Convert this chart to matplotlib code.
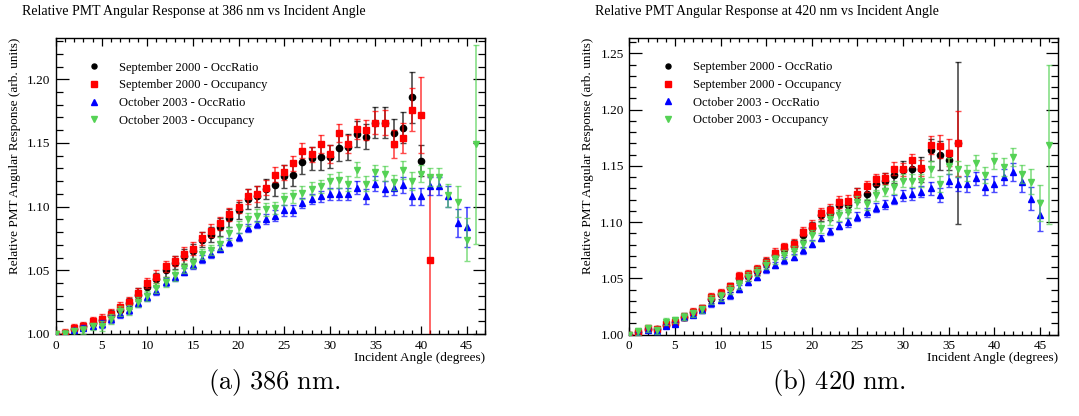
import matplotlib
matplotlib.use('Agg')
import matplotlib.pyplot as plt
from matplotlib.ticker import MultipleLocator, FormatStrFormatter

plt.rcParams['font.family'] = ['Liberation Serif', 'DejaVu Serif']
plt.rcParams['mathtext.fontset'] = 'cm'

# ---------------- data: 386 nm ----------------
angles_sep_386 = list(range(0, 41))   # Sep 2000 OccRatio
angles_occ_386 = list(range(0, 42))   # Sep 2000 Occupancy
angles_oct_ratio_386 = list(range(0, 46))
angles_oct_occ_386 = list(range(0, 47))

sep_ratio_386 = [1.000, 1.000, 1.004, 1.006, 1.009, 1.011, 1.015, 1.019, 1.024, 1.031,
                 1.037, 1.043, 1.050, 1.056, 1.061, 1.065, 1.074, 1.078, 1.084, 1.091,
                 1.097, 1.106, 1.108, 1.114, 1.117, 1.124, 1.125, 1.135, 1.138, 1.139,
                 1.139, 1.146, 1.147, 1.157, 1.155, 1.166, 1.166, 1.158, 1.162, 1.186,
                 1.136]
sep_ratio_386_err = [0.001, 0.002, 0.002, 0.003, 0.003, 0.003, 0.004, 0.004, 0.004, 0.005,
                     0.005, 0.005, 0.005, 0.005, 0.006, 0.006, 0.006, 0.006, 0.007, 0.007,
                     0.007, 0.008, 0.008, 0.008, 0.009, 0.009, 0.009, 0.009, 0.009, 0.010,
                     0.009, 0.010, 0.010, 0.010, 0.010, 0.012, 0.012, 0.011, 0.012, 0.020,
                     0.012]
sep_occ_386 = [1.000, 1.001, 1.0045, 1.0065, 1.010, 1.0115, 1.016, 1.021, 1.025, 1.032,
               1.040, 1.045, 1.053, 1.057, 1.063, 1.067, 1.075, 1.081, 1.087, 1.094,
               1.100, 1.108, 1.110, 1.115, 1.125, 1.127, 1.134, 1.144, 1.141, 1.149,
               1.141, 1.158, 1.149, 1.161, 1.160, 1.166, 1.166, 1.149, 1.154, 1.176,
               1.172, 1.058]
sep_occ_386_err = [0.002, 0.003, 0.003, 0.003, 0.003, 0.004, 0.004, 0.004, 0.004, 0.004,
                   0.004, 0.005, 0.004, 0.004, 0.005, 0.005, 0.005, 0.005, 0.005, 0.005,
                   0.005, 0.006, 0.006, 0.006, 0.006, 0.006, 0.006, 0.006, 0.006, 0.007,
                   0.007, 0.007, 0.007, 0.008, 0.008, 0.009, 0.010, 0.011, 0.012, 0.017,
                   0.030, 0.066]
oct_ratio_386 = [1.000, 1.000, 1.003, 1.005, 1.006, 1.008, 1.012, 1.0155, 1.019, 1.0245,
                 1.029, 1.034, 1.041, 1.045, 1.049, 1.054, 1.059, 1.063, 1.067, 1.072,
                 1.076, 1.083, 1.086, 1.090, 1.093, 1.097, 1.097, 1.103, 1.106, 1.108,
                 1.110, 1.110, 1.110, 1.115, 1.108, 1.118, 1.114, 1.115, 1.117, 1.108,
                 1.108, 1.116, 1.116, 1.108, 1.087, 1.084]
oct_ratio_386_err = [0.001, 0.002, 0.002, 0.002, 0.002, 0.003, 0.003, 0.003, 0.003, 0.003,
                     0.003, 0.003, 0.003, 0.003, 0.003, 0.003, 0.003, 0.003, 0.003, 0.003,
                     0.003, 0.003, 0.003, 0.004, 0.004, 0.004, 0.004, 0.004, 0.004, 0.004,
                     0.005, 0.005, 0.005, 0.005, 0.006, 0.006, 0.006, 0.006, 0.006, 0.007,
                     0.007, 0.007, 0.007, 0.008, 0.011, 0.016]
oct_occ_386 = [1.000, 1.000, 1.002, 1.003, 1.006, 1.0065, 1.012, 1.018, 1.019, 1.025,
               1.030, 1.036, 1.041, 1.046, 1.052, 1.056, 1.063, 1.066, 1.071, 1.079,
               1.084, 1.090, 1.093, 1.098, 1.099, 1.106, 1.108, 1.111, 1.114, 1.116,
               1.120, 1.121, 1.118, 1.129, 1.118, 1.127, 1.126, 1.119, 1.129, 1.120,
               1.126, 1.123, 1.123, 1.109, 1.104, 1.074, 1.149]
oct_occ_386_err = [0.002, 0.003, 0.003, 0.003, 0.003, 0.004, 0.004, 0.004, 0.004, 0.004,
                   0.004, 0.004, 0.004, 0.004, 0.004, 0.004, 0.004, 0.004, 0.005, 0.005,
                   0.005, 0.005, 0.005, 0.005, 0.005, 0.005, 0.005, 0.005, 0.005, 0.005,
                   0.006, 0.006, 0.006, 0.006, 0.006, 0.006, 0.006, 0.006, 0.007, 0.007,
                   0.007, 0.007, 0.007, 0.009, 0.012, 0.017, 0.078]

# ---------------- data: 420 nm ----------------
angles_sep_420 = list(range(0, 37))
angles_oct_ratio_420 = list(range(0, 46))
angles_oct_occ_420 = list(range(0, 47))

sep_ratio_420 = [1.000, 1.002, 1.005, 1.005, 1.009, 1.011, 1.016, 1.020, 1.023, 1.032,
                 1.036, 1.042, 1.050, 1.052, 1.057, 1.064, 1.071, 1.076, 1.079, 1.089,
                 1.095, 1.106, 1.108, 1.115, 1.115, 1.124, 1.1255, 1.134, 1.137, 1.142,
                 1.146, 1.147, 1.147, 1.164, 1.1595, 1.155, 1.170]
sep_ratio_420_err = [0.001, 0.002, 0.002, 0.002, 0.003, 0.003, 0.003, 0.003, 0.003, 0.004,
                     0.004, 0.004, 0.004, 0.004, 0.004, 0.004, 0.004, 0.005, 0.005, 0.005,
                     0.005, 0.005, 0.006, 0.006, 0.006, 0.006, 0.006, 0.007, 0.007, 0.007,
                     0.008, 0.009, 0.011, 0.010, 0.013, 0.009, 0.072]
sep_occ_420 = [1.000, 1.0027, 1.0056, 1.005, 1.0095, 1.0115, 1.016, 1.0205, 1.0234, 1.0338,
               1.0373, 1.043, 1.052, 1.0536, 1.058, 1.065, 1.073, 1.0776, 1.081, 1.0915,
               1.097, 1.108, 1.111, 1.118, 1.119, 1.1255, 1.132, 1.138, 1.139, 1.1477,
               1.147, 1.155, 1.148, 1.169, 1.1675, 1.1616, 1.170]
sep_occ_420_err = [0.002, 0.002, 0.002, 0.003, 0.003, 0.003, 0.003, 0.003, 0.003, 0.003,
                   0.003, 0.003, 0.004, 0.004, 0.004, 0.004, 0.004, 0.004, 0.004, 0.004,
                   0.005, 0.005, 0.005, 0.005, 0.005, 0.005, 0.005, 0.005, 0.005, 0.006,
                   0.006, 0.006, 0.007, 0.008, 0.010, 0.012, 0.029]
oct_ratio_420 = [1.000, 1.000, 1.004, 1.003, 1.0077, 1.0095, 1.0154, 1.0175, 1.022, 1.028,
                 1.031, 1.035, 1.041, 1.047, 1.0515, 1.058, 1.062, 1.066, 1.069, 1.075,
                 1.081, 1.086, 1.092, 1.097, 1.100, 1.105, 1.109, 1.113, 1.116, 1.120,
                 1.124, 1.125, 1.127, 1.130, 1.124, 1.137, 1.134, 1.134, 1.139, 1.131,
                 1.134, 1.140, 1.145, 1.136, 1.121, 1.106]
oct_ratio_420_err = [0.001, 0.002, 0.002, 0.002, 0.002, 0.002, 0.002, 0.002, 0.003, 0.003,
                     0.003, 0.003, 0.003, 0.003, 0.003, 0.003, 0.003, 0.003, 0.003, 0.003,
                     0.003, 0.003, 0.003, 0.003, 0.004, 0.004, 0.004, 0.004, 0.004, 0.004,
                     0.005, 0.005, 0.005, 0.006, 0.006, 0.006, 0.006, 0.007, 0.006, 0.007,
                     0.007, 0.007, 0.008, 0.009, 0.010, 0.014]
oct_occ_420 = [1.000, 1.003, 1.0056, 1.004, 1.0115, 1.013, 1.016, 1.019, 1.0225, 1.031,
               1.034, 1.040, 1.045, 1.0515, 1.056, 1.062, 1.067, 1.071, 1.0745, 1.081,
               1.0885, 1.095, 1.1025, 1.106, 1.109, 1.118, 1.116, 1.124, 1.128, 1.131,
               1.137, 1.137, 1.137, 1.147, 1.134, 1.150, 1.147, 1.144, 1.153, 1.142,
               1.1545, 1.149, 1.158, 1.143, 1.136, 1.117, 1.169]
oct_occ_420_err = [0.002, 0.003, 0.003, 0.003, 0.003, 0.003, 0.003, 0.003, 0.003, 0.004,
                   0.004, 0.004, 0.004, 0.004, 0.004, 0.004, 0.004, 0.004, 0.004, 0.004,
                   0.005, 0.005, 0.005, 0.005, 0.005, 0.005, 0.005, 0.005, 0.005, 0.006,
                   0.006, 0.006, 0.006, 0.007, 0.007, 0.007, 0.007, 0.007, 0.007, 0.007,
                   0.007, 0.008, 0.008, 0.008, 0.011, 0.016, 0.071]

labels = ['September 2000 - OccRatio', 'September 2000 - Occupancy',
          'October 2003 - OccRatio', 'October 2003 - Occupancy']
colors = ['#000000', '#ff0000', '#0000ff', '#55d255']
markers = ['o', 's', '^', 'v']
msizes = [4.5, 4.8, 4.6, 4.6]

titles = ['Relative PMT Angular Response at 386 nm vs Incident Angle',
          'Relative PMT Angular Response at 420 nm vs Incident Angle']
captions = [r'$\mathrm{(a)\ 386\ nm.}$', r'$\mathrm{(b)\ 420\ nm.}$']
ylabel = 'Relative PMT Angular Response (arb. units)'
xlabel = 'Incident Angle (degrees)'

W, H = 1079, 416
fig = plt.figure(figsize=(W / 100, H / 100), dpi=100)


def frac(x, y):
    return x / W, 1 - y / H


panels = [
    dict(left=56, right=485, top=38, bottom=334, ylim=(1.0, 1.2324),
         series=[(angles_sep_386, sep_ratio_386, sep_ratio_386_err),
                 (angles_occ_386, sep_occ_386, sep_occ_386_err),
                 (angles_oct_ratio_386, oct_ratio_386, oct_ratio_386_err),
                 (angles_oct_occ_386, oct_occ_386, oct_occ_386_err)],
         title_x=22, ylab_x=15, cap_x=274),
    dict(left=629.3, right=1058.3, top=37.7, bottom=334.7, ylim=(1.0, 1.264),
         series=[(angles_sep_420, sep_ratio_420, sep_ratio_420_err),
                 (angles_sep_420, sep_occ_420, sep_occ_420_err),
                 (angles_oct_ratio_420, oct_ratio_420, oct_ratio_420_err),
                 (angles_oct_occ_420, oct_occ_420, oct_occ_420_err)],
         title_x=595, ylab_x=588, cap_x=839),
]

for i, p in enumerate(panels):
    ax = fig.add_axes([p['left'] / W, 1 - p['bottom'] / H,
                       (p['right'] - p['left']) / W, (p['bottom'] - p['top']) / H])
    handles = []
    for j, (xs, ys, es) in enumerate(p['series']):
        eb = ax.errorbar(xs, ys, yerr=es, fmt=markers[j], color=colors[j], ms=msizes[j],
                         mec=colors[j], ecolor=colors[j], elinewidth=1.2, capsize=2.2,
                         capthick=1.0, zorder=3 + j)
        for c in eb[1]:
            c.set_alpha(0.7)
        for c in eb[2]:
            c.set_alpha(0.7)
        handles.append(eb.lines[0])
    ax.set_xlim(0, 47)
    ax.set_ylim(*p['ylim'])
    ax.xaxis.set_major_locator(MultipleLocator(5))
    ax.xaxis.set_minor_locator(MultipleLocator(1))
    ax.yaxis.set_major_locator(MultipleLocator(0.05))
    ax.yaxis.set_minor_locator(MultipleLocator(0.01))
    ax.yaxis.set_major_formatter(FormatStrFormatter('%.2f'))
    ax.tick_params(which='both', direction='in', top=True, right=True, width=0.9,
                   labelsize=9.5)
    ax.tick_params(axis='x', which='major', length=6, pad=4)
    ax.tick_params(axis='x', which='minor', length=3)
    ax.tick_params(axis='y', which='major', length=9, pad=4)
    ax.tick_params(axis='y', which='minor', length=5)
    for s in ax.spines.values():
        s.set_linewidth(1.0)

    ax.legend(handles, labels, loc='upper left', frameon=False, fontsize=9,
              bbox_to_anchor=(0.075, 0.92), borderaxespad=0, borderpad=0,
              handlelength=1.0, handletextpad=1.5, labelspacing=0.45,
              markerscale=0.8)

    tx, ty = frac(p['title_x'], 12)
    fig.text(tx, ty, titles[i], ha='left', va='center', fontsize=10)
    lx, ly = frac(p['ylab_x'], p['top'])
    fig.text(lx, ly, ylabel, rotation=90, ha='center', va='top', fontsize=9.5)
    xx, xy = frac(p['right'], 357.5)
    fig.text(xx, xy, xlabel, ha='right', va='center', fontsize=9.5)
    cx, cy = frac(p['cap_x'], 382)
    fig.text(cx, cy, captions[i], ha='center', va='center', fontsize=19)

fig.savefig('out.png', dpi=100)
